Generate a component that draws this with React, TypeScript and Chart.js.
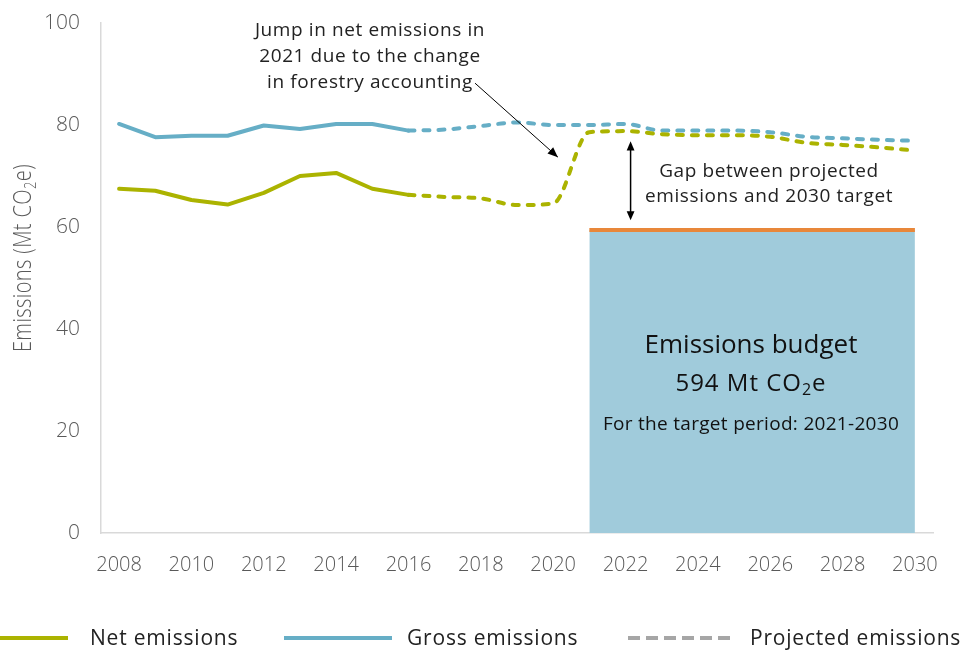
import React, { useEffect, useRef } from "react";
import { Chart, registerables } from "chart.js";

Chart.register(...registerables);

const years = [
  "2008", "2009", "2010", "2011", "2012", "2013", "2014", "2015", "2016", "2017", "2018", "2019",
  "2020", "2021", "2022", "2023", "2024", "2025", "2026", "2027", "2028", "2029", "2030",
];
const N = null;
const netEmissions = [67.5, 67.1, 65.3, 64.4, 66.7, 70.0, 70.6, 67.5, 66.3, N, N, N, N, N, N, N, N, N, N, N, N, N, N];
const grossEmissions = [80.2, 77.6, 77.9, 77.9, 79.9, 79.2, 80.2, 80.2, 78.9, N, N, N, N, N, N, N, N, N, N, N, N, N, N];
const netProjected = [N, N, N, N, N, N, N, N, 66.3, 65.9, 65.6, 64.3, 64.6, 78.6, 78.8, 78.2, 78.0, 78.0, 77.7, 76.5, 76.1, 75.6, 75.0];
const grossProjected = [N, N, N, N, N, N, N, N, 78.9, 79.1, 79.8, 80.5, 80.0, 80.0, 80.2, 78.9, 78.9, 78.9, 78.6, 77.7, 77.4, 77.1, 76.9];
const budgetTarget = [N, N, N, N, N, N, N, N, N, N, N, N, N, 59.4, 59.4, 59.4, 59.4, 59.4, 59.4, 59.4, 59.4, 59.4, 59.4];
const yTicks = [0, 20, 40, 60, 80, 100];

const NET_COLOR = "#ABB300";
const GROSS_COLOR = "#66AEC6";
const BUDGET_FILL = "#A0CBDB";
const TARGET_COLOR = "#E8873A";
const FONT = "'Open Sans'";
const TEXT = "#222222";
const GREY = "#595959";

function arrowHead(ctx: CanvasRenderingContext2D, x1: number, y1: number, x2: number, y2: number, size: number) {
  const a = Math.atan2(y2 - y1, x2 - x1);
  ctx.beginPath();
  ctx.moveTo(x2, y2);
  ctx.lineTo(x2 - size * Math.cos(a - 0.4), y2 - size * Math.sin(a - 0.4));
  ctx.lineTo(x2 - size * Math.cos(a + 0.4), y2 - size * Math.sin(a + 0.4));
  ctx.closePath();
  ctx.fill();
}

function setSpacing(ctx: any, s: string) {
  if ("letterSpacing" in ctx) ctx.letterSpacing = s;
}

function co2(ctx: CanvasRenderingContext2D, pre: string, post: string, x: number, y: number, size: number, weight = "400") {
  const sub = "2";
  const subSize = Math.round(size * 0.65);
  ctx.font = `${weight} ${size}px ${FONT}`;
  const w1 = ctx.measureText(pre + "CO").width;
  const w3 = ctx.measureText(post).width;
  ctx.font = `${weight} ${subSize}px ${FONT}`;
  const w2 = ctx.measureText(sub).width;
  const total = w1 + w2 + w3;
  const sx = x - total / 2;
  ctx.textAlign = "left";
  ctx.font = `${weight} ${size}px ${FONT}`;
  ctx.fillText(pre + "CO", sx, y);
  ctx.font = `${weight} ${subSize}px ${FONT}`;
  ctx.fillText(sub, sx + w1, y + size * 0.28);
  ctx.font = `${weight} ${size}px ${FONT}`;
  ctx.fillText(post, sx + w1 + w2, y);
}

const annotationPlugin = {
  id: "annotations",
  afterDraw(chart: any) {
    const ctx: CanvasRenderingContext2D = chart.ctx;
    const xs = chart.scales.x;
    const ys = chart.scales.y;
    const px = (i: number) => xs.getPixelForValue(i);
    const py = (v: number) => ys.getPixelForValue(v);
    ctx.save();

    // Jump annotation text
    ctx.fillStyle = TEXT;
    ctx.textAlign = "center";
    ctx.textBaseline = "middle";
    ctx.font = `19px ${FONT}`;
    setSpacing(ctx, "0.6px");
    const jx = 370;
    ["Jump in net emissions in", "2021 due to the change", "in forestry accounting"].forEach((t, i) => {
      ctx.fillText(t, jx, 31 + i * 26);
    });
    setSpacing(ctx, "0px");
    // arrow
    ctx.strokeStyle = "#000";
    ctx.fillStyle = "#000";
    ctx.lineWidth = 1;
    const ax1 = px(9.84), ay1 = py(88.2), ax2 = px(12.13), ay2 = py(73.7);
    ctx.beginPath();
    ctx.moveTo(ax1, ay1);
    ctx.lineTo(ax2, ay2);
    ctx.stroke();
    arrowHead(ctx, ax1, ay1, ax2, ay2, 11);

    // Gap double arrow
    const gx = px(14.14);
    const gy1 = py(76.8), gy2 = py(61.3);
    ctx.lineWidth = 1.5;
    ctx.beginPath();
    ctx.moveTo(gx, gy1 + 6);
    ctx.lineTo(gx, gy2 - 6);
    ctx.stroke();
    arrowHead(ctx, gx, gy2, gx, gy1, 10);
    arrowHead(ctx, gx, gy1, gx, gy2, 10);

    ctx.fillStyle = TEXT;
    ctx.font = `19px ${FONT}`;
    setSpacing(ctx, "0.6px");
    ctx.textAlign = "center";
    ctx.fillText("Gap between projected", 769, 172);
    ctx.fillText("emissions and 2030 target", 769, 197);
    setSpacing(ctx, "0px");

    // Budget texts
    const bx = 751;
    ctx.font = `500 26px ${FONT}`;
    ctx.fillStyle = "#111";
    ctx.fillText("Emissions budget", bx, 346);
    setSpacing(ctx, "1px");
    co2(ctx, "594 Mt ", "e", bx, 384, 24);
    ctx.textAlign = "center";
    ctx.font = `19px ${FONT}`;
    setSpacing(ctx, "0.3px");
    ctx.fillText("For the target period: 2021-2030", bx, 425);
    setSpacing(ctx, "0px");

    // Y axis title
    ctx.save();
    ctx.translate(24, 258);
    ctx.rotate(-Math.PI / 2);
    ctx.scale(1, 1.25);
    ctx.fillStyle = GREY;
    setSpacing(ctx, "0.4px");
    co2(ctx, "Emissions (Mt ", "e)", 0, 0, 20, "300");
    setSpacing(ctx, "0px");
    ctx.restore();

    // Legend
    const ly = 638;
    ctx.lineWidth = 4;
    ctx.strokeStyle = NET_COLOR;
    ctx.beginPath(); ctx.moveTo(0, ly); ctx.lineTo(68, ly); ctx.stroke();
    ctx.strokeStyle = GROSS_COLOR;
    ctx.beginPath(); ctx.moveTo(284, ly); ctx.lineTo(392, ly); ctx.stroke();
    ctx.strokeStyle = "#A6A6A6";
    ctx.setLineDash([12, 6]);
    ctx.beginPath(); ctx.moveTo(628, ly); ctx.lineTo(732, ly); ctx.stroke();
    ctx.setLineDash([]);
    ctx.fillStyle = TEXT;
    ctx.textAlign = "left";
    ctx.font = `21px ${FONT}`;
    setSpacing(ctx, "0.8px");
    ctx.fillText("Net emissions", 90, ly + 1);
    ctx.fillText("Gross emissions", 407, ly + 1);
    ctx.fillText("Projected emissions", 750, ly + 1);
    setSpacing(ctx, "0px");

    ctx.restore();
  },
};

export default function App() {
  const ref = useRef<HTMLCanvasElement | null>(null);
  useEffect(() => {
    if (!ref.current) return;
    const lineBase = {
      pointRadius: 0,
      borderWidth: 4,
      fill: false,
      spanGaps: false,
      borderCapStyle: "round" as const,
      borderJoinStyle: "round" as const,
    };
    const chart = new Chart(ref.current, {
      type: "line",
      data: {
        labels: years,
        datasets: [
          { ...lineBase, label: "Net emissions", data: netEmissions, borderColor: NET_COLOR, order: 1 },
          { ...lineBase, label: "Gross emissions", data: grossEmissions, borderColor: GROSS_COLOR, order: 2 },
          {
            ...lineBase, label: "Net projected", data: netProjected, borderColor: NET_COLOR, borderDash: [6, 9],
            cubicInterpolationMode: "monotone", order: 1,
          },
          {
            ...lineBase, label: "Gross projected", data: grossProjected, borderColor: GROSS_COLOR, borderDash: [6, 9],
            cubicInterpolationMode: "monotone", order: 2,
          },
          {
            label: "Budget", data: budgetTarget, borderColor: TARGET_COLOR, backgroundColor: BUDGET_FILL,
            borderWidth: 4, pointRadius: 0, fill: "origin", order: 10,
          },
        ],
      },
      options: {
        animation: false,
        responsive: false,
        layout: { padding: { left: 0, top: 23, right: 30, bottom: 0 } },
        plugins: { legend: { display: false }, tooltip: { enabled: false }, title: { display: false } },
        scales: {
          x: {
            type: "category",
            offset: true,
            grid: { display: false, drawTicks: false },
            border: { display: true, color: "#D9D9D9", width: 1.5 },
            ticks: {
              autoSkip: false,
              maxRotation: 0,
              padding: 20,
              color: GREY,
              font: { family: FONT, size: 20, weight: "300" },
              callback: (_v: any, i: number) => (i % 2 === 0 ? years[i] : ""),
            },
            afterFit: (s: any) => { s.height = 119; },
          },
          y: {
            min: 0,
            max: 100,
            afterBuildTicks: (s: any) => { s.ticks = yTicks.map((v) => ({ value: v })); },
            grid: { display: false, drawTicks: false },
            border: { display: true, color: "#D9D9D9", width: 1.5 },
            ticks: { padding: 21, color: GREY, font: { family: FONT, size: 21, weight: "300" } },
            afterFit: (s: any) => { s.width = 101; s.paddingTop = 0; s.paddingBottom = 0; },
          },
        },
      },
      plugins: [annotationPlugin],
    });
    return () => chart.destroy();
  }, []);
  return (
    <div style={{ position: "absolute", left: 0, top: 0, width: 963, height: 652, background: "#fff" }}>
      <canvas ref={ref} width={963} height={652} style={{ width: 963, height: 652 }} />
    </div>
  );
}
